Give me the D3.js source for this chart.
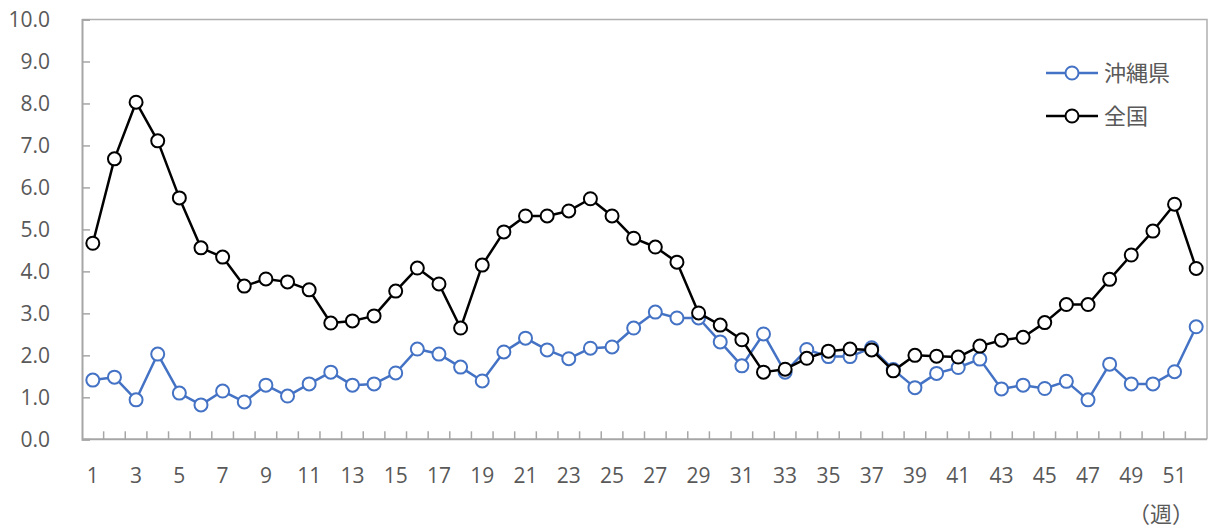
<!DOCTYPE html>
<html>
<head>
<meta charset="utf-8">
<script src="https://cdn.jsdelivr.net/npm/d3@7"></script>
<style>
  body { margin: 0; background: #fff; }
  svg text { font-family: "Open Sans", "Noto Sans", sans-serif; fill: #595959; }
  .jp { font-family: "Noto Sans CJK JP", sans-serif; }
</style>
</head>
<body>
<svg id="chart" width="1209" height="531"></svg>
<script>
// weeks 1..52
var weeks = d3.range(1, 53);
var yTicks = [0, 1, 2, 3, 4, 5, 6, 7, 8, 9, 10];
var seriesNames = ["沖縄県", "全国"];

var okinawa = [1.41, 1.48, 0.94, 2.03, 1.10, 0.82, 1.15, 0.89, 1.29, 1.03,
  1.32, 1.60, 1.29, 1.32, 1.58, 2.15, 2.03, 1.72, 1.39, 2.08,
  2.41, 2.13, 1.92, 2.17, 2.20, 2.65, 3.03, 2.89, 2.89, 2.32,
  1.75, 2.51, 1.60, 2.14, 1.97, 1.97, 2.18, 1.66, 1.23, 1.57,
  1.71, 1.91, 1.20, 1.29, 1.21, 1.38, 0.94, 1.79, 1.32, 1.32,
  1.61, 2.68];

var national = [4.67, 6.68, 8.03, 7.11, 5.75, 4.56, 4.34, 3.65, 3.82, 3.75,
  3.56, 2.77, 2.82, 2.94, 3.53, 4.08, 3.70, 2.65, 4.15, 4.94,
  5.32, 5.32, 5.44, 5.73, 5.32, 4.79, 4.58, 4.22, 3.01, 2.72,
  2.37, 1.60, 1.67, 1.93, 2.10, 2.15, 2.13, 1.63, 2.00, 1.98,
  1.96, 2.22, 2.36, 2.43, 2.78, 3.21, 3.21, 3.81, 4.39, 4.96,
  5.60, 4.07];

var colors = ["#4472C4", "#000000"];

var svg = d3.select("#chart");
var plotLeft = 82, plotRight = 1207, plotTop = 19.5, plotBottom = 439.3;

var x = d3.scaleBand().domain(weeks).range([plotLeft, plotRight]).padding(0);
var y = d3.scaleLinear().domain([0, 10]).range([plotBottom, plotTop]);

// plot border (top and right)
svg.append("path")
  .attr("d", "M" + plotLeft + "," + plotTop + "H" + plotRight + "V" + plotBottom)
  .attr("fill", "none")
  .attr("stroke", "#b0b0b0")
  .attr("stroke-width", 1.5);

// y axis
var yAxis = svg.append("g")
  .attr("transform", "translate(" + plotLeft + ",0)")
  .call(d3.axisLeft(y).tickValues(yTicks).tickSize(-8).tickPadding(32)
    .tickFormat(d3.format(".1f")));
yAxis.select(".domain").attr("stroke", "#a6a6a6").attr("stroke-width", 2);
yAxis.selectAll(".tick line").attr("stroke", "#a6a6a6").attr("stroke-width", 1.5);
yAxis.selectAll("text").attr("font-size", 21).attr("fill", "#595959")
  .style("font-family", "'Open Sans', sans-serif");

// x axis line and band boundary ticks
svg.append("line")
  .attr("x1", plotLeft).attr("x2", plotRight)
  .attr("y1", plotBottom).attr("y2", plotBottom)
  .attr("stroke", "#a6a6a6").attr("stroke-width", 2);

svg.append("g").selectAll("line")
  .data(weeks.slice(1))
  .enter().append("line")
  .attr("x1", function(d) { return x(d); })
  .attr("x2", function(d) { return x(d); })
  .attr("y1", plotBottom).attr("y2", plotBottom - 8)
  .attr("stroke", "#a6a6a6").attr("stroke-width", 1.5);

// x labels (odd weeks)
svg.append("g").selectAll("text")
  .data(weeks.filter(function(d) { return d % 2 === 1; }))
  .enter().append("text")
  .attr("x", function(d) { return x(d) + x.bandwidth() / 2; })
  .attr("y", 483)
  .attr("text-anchor", "middle")
  .attr("font-size", 21)
  .text(function(d) { return d; });

svg.append("text")
  .attr("class", "jp")
  .attr("x", 1194)
  .attr("y", 522)
  .attr("text-anchor", "end")
  .attr("font-size", 22)
  .attr("fill", "#595959")
  .text("（週）");

// lines
var line = d3.line()
  .x(function(d, i) { return x(weeks[i]) + x.bandwidth() / 2; })
  .y(function(d) { return y(d); })
  .curve(d3.curveLinear);

function drawSeries(data, color) {
  svg.append("path")
    .attr("d", line(data))
    .attr("fill", "none")
    .attr("stroke", color)
    .attr("stroke-width", 2.5)
    .attr("stroke-linejoin", "round");

  svg.append("g").selectAll("circle")
    .data(data)
    .enter().append("circle")
    .attr("cx", function(d, i) { return x(weeks[i]) + x.bandwidth() / 2; })
    .attr("cy", function(d) { return y(d); })
    .attr("r", 6.5)
    .attr("fill", "#fff")
    .attr("stroke", color)
    .attr("stroke-width", 2);
}

drawSeries(okinawa, colors[0]);
drawSeries(national, colors[1]);

// legend
var legend = svg.append("g");
seriesNames.forEach(function(name, i) {
  var ly = 73 + i * 43;
  legend.append("line")
    .attr("x1", 1046).attr("x2", 1098)
    .attr("y1", ly).attr("y2", ly)
    .attr("stroke", colors[i]).attr("stroke-width", 2.5);
  legend.append("circle")
    .attr("cx", 1072).attr("cy", ly).attr("r", 6.5)
    .attr("fill", "#fff").attr("stroke", colors[i]).attr("stroke-width", 2);
  legend.append("text")
    .attr("class", "jp")
    .attr("x", 1104).attr("y", ly + 8)
    .attr("font-size", 22)
    .attr("fill", "#7f7f7f")
    .text(name);
});
</script>
</body>
</html>
